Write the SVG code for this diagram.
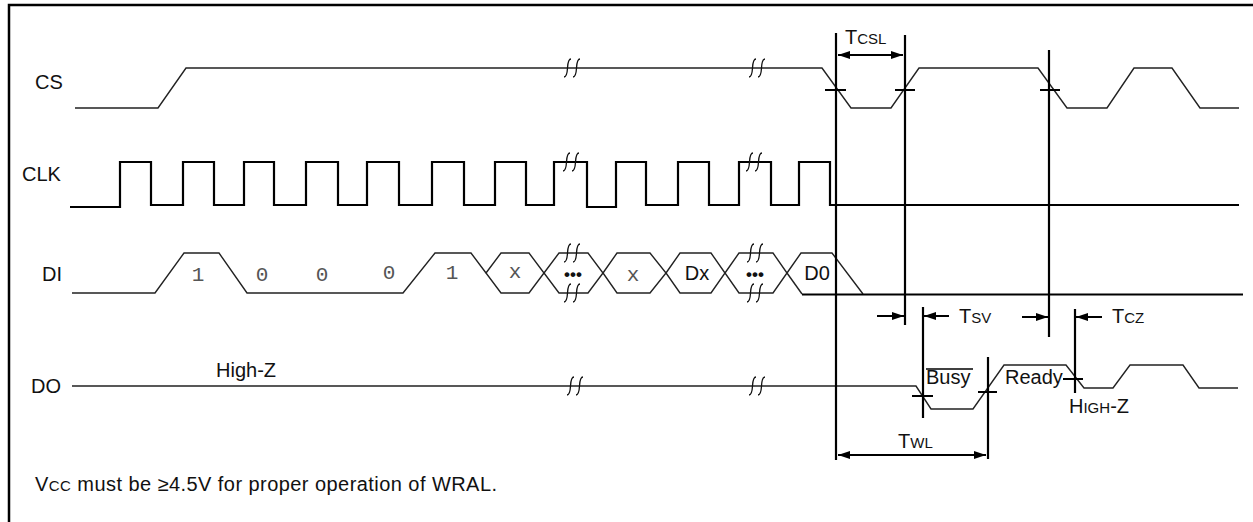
<svg xmlns="http://www.w3.org/2000/svg" width="1253" height="522" viewBox="0 0 1253 522">
<style>
.lbl{font-family:"Liberation Sans",Arial,sans-serif;font-size:20px;fill:#111}
.sm{font-size:15px}
.mono{font-family:"Liberation Mono","Courier New",monospace;font-size:21px;fill:#555}
.sig{fill:none;stroke:#222;stroke-width:1.4;stroke-linejoin:miter}
.clk{fill:none;stroke:#000;stroke-width:2.2}
.thick{fill:none;stroke:#000;stroke-width:2.2}
.vl{stroke:#000;stroke-width:2.2}
.tk{stroke:#000;stroke-width:2}
.arr{stroke:#000;stroke-width:2;fill:none}
.brk path{fill:none;stroke:#111;stroke-width:1.3}
</style>
<defs>
<marker id="ah" viewBox="0 0 12 8" refX="12" refY="4" markerWidth="12" markerHeight="8" markerUnits="userSpaceOnUse" orient="auto-start-reverse">
<path d="M0,0 L12,4 L0,8 z" fill="#000"/>
</marker>
<g id="brk" class="brk">
<path d="M-8,9 Q-5,9 -4.5,0 Q-4,-9 -1,-9"/>
<path d="M1,9 Q4,9 4.5,0 Q5,-9 8,-9"/>
</g>
</defs>
<rect width="1253" height="522" fill="#fff"/>
<path d="M9,522 V5 H1253" fill="none" stroke="#000" stroke-width="2.5"/>

<g id="labels">
<text class="lbl" x="35" y="89">CS</text>
<text class="lbl" x="22" y="181">CLK</text>
<text class="lbl" x="42" y="281">DI</text>
<text class="lbl" x="31" y="393">DO</text>
<text class="lbl" x="216" y="377">High-Z</text>
<text class="lbl" x="35" y="491" style="font-size:20px" textLength="462" lengthAdjust="spacing">V<tspan style="font-size:15px">CC</tspan> must be ≥4.5V for proper operation of WRAL.</text>
</g>

<g id="sig-cs">
<path class="sig" d="M75,108 H158 L186,68 H822 L851,108 H891 L919,68 H1038 L1067,108 H1107 L1134,68 H1172 L1200,108 H1239"/>
<use href="#brk" x="572" y="68"/>
<use href="#brk" x="757" y="68"/>
</g>

<g id="sig-clk">
<path class="clk" d="M70,207 H120 V162 H151 V205 H183 V162 H214 V205 H244 V162 H274 V205 H306 V162 H338 V205 H367 V162 H399 V205 H432 V162 H464 V205 H495 V162 H526 V205 H554 V162 H587 V207 H616 V162 H646 V205 H678 V162 H709 V205 H739 V162 H771 V205 H799 V162 H830 V205 H1239"/>
<use href="#brk" x="571" y="162"/>
<use href="#brk" x="754" y="162"/>
</g>

<g id="sig-di">
<path class="sig" d="M72,293 H155 L184,253 H219 L247,293 H403 L435,253 H471 L486,273"/>
<polygon class="sig" points="486,273 501,253 529,253 544,273 529,293 501,293"/>
<polygon class="sig" points="544,273 559,253 588,253 603,273 588,293 559,293"/>
<polygon class="sig" points="603,273 617,253 650,253 666,273 650,293 617,293"/>
<polygon class="sig" points="666,273 680,253 711,253 725,273 711,293 680,293"/>
<polygon class="sig" points="725,273 739,253 773,253 787,273 773,293 739,293"/>
<path class="sig" d="M787,273 L801,253 H832 L863,294"/>
<path class="sig" d="M787,273 L802,294"/>
<path class="thick" d="M802,294.5 H1243"/>
<use href="#brk" x="572" y="253"/>
<use href="#brk" x="572" y="293"/>
<use href="#brk" x="755" y="253"/>
<use href="#brk" x="755" y="293"/>
<text class="mono" x="198" y="281" text-anchor="middle">1</text>
<text class="mono" x="262" y="281" text-anchor="middle">0</text>
<text class="mono" x="322" y="281" text-anchor="middle">0</text>
<text class="mono" x="389" y="279" text-anchor="middle">0</text>
<text class="mono" x="452" y="279" text-anchor="middle">1</text>
<text class="mono" x="515" y="278" text-anchor="middle">x</text>
<text class="lbl" x="573" y="280" text-anchor="middle" style="font-size:17px;font-weight:bold">•••</text>
<text class="mono" x="633" y="281" text-anchor="middle">x</text>
<text class="lbl" x="697" y="280" text-anchor="middle">Dx</text>
<text class="lbl" x="755" y="280" text-anchor="middle" style="font-size:17px;font-weight:bold">•••</text>
<text class="lbl" x="817" y="280" text-anchor="middle">D0</text>
</g>

<g id="sig-do">
<path class="sig" d="M72,386 H916 L931,409 H973 L1004,365 H1066 L1084,388 H1113 L1130,365 H1183 L1199,388 H1238"/>
<use href="#brk" x="575" y="386"/>
<use href="#brk" x="757" y="386"/>
<line x1="926" y1="369" x2="973" y2="369" stroke="#000" stroke-width="1.6"/>
<text class="lbl" x="926" y="384">Busy</text>
<text class="lbl" x="1005" y="384">Ready</text>
<text class="lbl" x="1069" y="413">H<tspan class="sm">IGH</tspan>-Z</text>
</g>

<g id="connectors">
<line class="vl" x1="836" y1="33" x2="836" y2="460"/>
<line class="vl" x1="905" y1="35" x2="905" y2="325"/>
<line class="vl" x1="1049" y1="50" x2="1049" y2="337"/>
<line class="vl" x1="923" y1="307" x2="923" y2="418"/>
<line class="vl" x1="988" y1="357" x2="988" y2="459"/>
<line class="vl" x1="1075" y1="309" x2="1075" y2="393"/>
<line class="tk" x1="825" y1="90" x2="846" y2="90"/>
<line class="tk" x1="895" y1="90" x2="915" y2="90"/>
<line class="tk" x1="1040" y1="90" x2="1060" y2="90"/>
<line class="tk" x1="912" y1="396" x2="933" y2="396"/>
<line class="tk" x1="978" y1="392" x2="997" y2="392"/>
<line class="tk" x1="1063" y1="379" x2="1083" y2="379"/>
<line class="arr" x1="838" y1="55" x2="903" y2="55" marker-start="url(#ah)" marker-end="url(#ah)"/>
<line class="arr" x1="838" y1="455" x2="986" y2="455" marker-start="url(#ah)" marker-end="url(#ah)"/>
<line class="arr" x1="877" y1="316" x2="904" y2="316" marker-end="url(#ah)"/>
<line class="arr" x1="949" y1="316" x2="924" y2="316" marker-end="url(#ah)"/>
<line class="arr" x1="1022" y1="317" x2="1048" y2="317" marker-end="url(#ah)"/>
<line class="arr" x1="1102" y1="317" x2="1076" y2="317" marker-end="url(#ah)"/>
<text class="lbl" x="845" y="44">T<tspan class="sm">CSL</tspan></text>
<text class="lbl" x="959" y="323">T<tspan class="sm">SV</tspan></text>
<text class="lbl" x="1112" y="323">T<tspan class="sm">CZ</tspan></text>
<text class="lbl" x="898" y="448">T<tspan class="sm">WL</tspan></text>
</g>
</svg>
